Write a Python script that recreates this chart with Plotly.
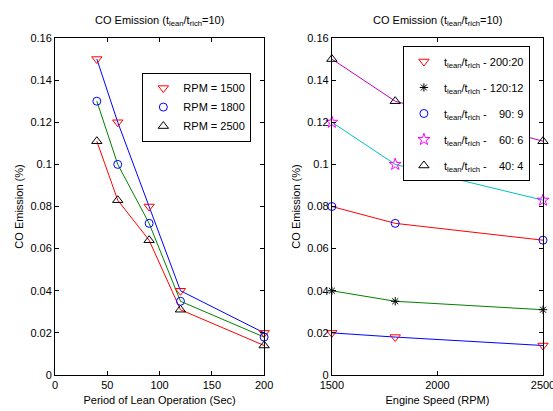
import plotly.graph_objects as go

# ---- data ----
lean_period = [40, 60, 90, 120, 200]
rpm_labels = ["RPM = 1500", "RPM = 1800", "RPM = 2500"]
co_rpm1500 = [0.150, 0.120, 0.080, 0.040, 0.020]
co_rpm1800 = [0.130, 0.100, 0.072, 0.035, 0.018]
co_rpm2500 = [0.111, 0.083, 0.064, 0.031, 0.014]

engine_speed = [1500, 1800, 2500]
ratio_labels = ["200:20", "120:12", "\u00a0\u00a0\u00a090:\u00a09", "\u00a0\u00a0\u00a060:\u00a06", "\u00a0\u00a0\u00a040:\u00a04"]
co_200_20 = [0.020, 0.018, 0.014]
co_120_12 = [0.040, 0.035, 0.031]
co_90_9 = [0.080, 0.072, 0.064]
co_60_6 = [0.120, 0.100, 0.083]
co_40_4 = [0.150, 0.130, 0.111]

y_ticks = [0, 0.02, 0.04, 0.06, 0.08, 0.1, 0.12, 0.14, 0.16]
y_ticktext = ["0", "0.02", "0.04", "0.06", "0.08", "0.1", "0.12", "0.14", "0.16"]
x1_ticks = [0, 50, 100, 150, 200]
x2_ticks = [1500, 2000, 2500]

FONT = "Liberation Sans, Arial, sans-serif"
BLUE = "rgb(0,0,255)"
GREEN = "rgb(0,128,0)"
RED = "rgb(255,0,0)"
CYAN = "rgb(0,191,191)"
MAG = "rgb(191,0,191)"

fig = go.Figure()

left_series = [
    (co_rpm1500, BLUE, "triangle-down-open", RED, 9),
    (co_rpm1800, GREEN, "circle-open", BLUE, 8),
    (co_rpm2500, RED, "triangle-up-open", "black", 9),
]
for (vals, lc, sym, mc, ms), name in zip(left_series, rpm_labels):
    fig.add_trace(go.Scatter(x=lean_period, y=vals, mode="lines",
                             line=dict(color=lc, width=1), showlegend=False,
                             xaxis="x", yaxis="y", hoverinfo="skip"))
for (vals, lc, sym, mc, ms), name in zip(left_series, rpm_labels):
    fig.add_trace(go.Scatter(x=lean_period, y=vals, mode="markers", name=name,
                             marker=dict(symbol=sym, size=ms, color=mc,
                                         line=dict(color=mc, width=1)),
                             cliponaxis=False, xaxis="x", yaxis="y", legend="legend"))

right_series = [
    (co_200_20, BLUE, "triangle-down-open", RED, 9),
    (co_120_12, GREEN, "asterisk-open", "black", 7),
    (co_90_9, RED, "circle-open", BLUE, 8),
    (co_60_6, CYAN, "star-open", "rgb(255,0,255)", 9),
    (co_40_4, MAG, "triangle-up-open", "black", 9),
]
for (vals, lc, sym, mc, ms) in right_series:
    fig.add_trace(go.Scatter(x=engine_speed, y=vals, mode="lines",
                             line=dict(color=lc, width=1), showlegend=False,
                             xaxis="x2", yaxis="y2", hoverinfo="skip"))
for i, ((vals, lc, sym, mc, ms), lab) in enumerate(zip(right_series, ratio_labels)):
    fig.add_trace(go.Scatter(x=engine_speed, y=vals, mode="markers",
                             name="t<sub>lean</sub>/t<sub>rich</sub> -\u00a0" + lab,
                             legendgroup=f"g{i}",
                             marker=dict(symbol=sym, size=ms, color=mc,
                                         line=dict(color=mc, width=1)),
                             cliponaxis=False, xaxis="x2", yaxis="y2", legend="legend2"))

axis_common = dict(showline=True, linecolor="black", linewidth=1, mirror="ticks",
                   ticks="inside", ticklen=4, tickcolor="black", tickwidth=1,
                   showgrid=False, zeroline=False, automargin=False,
                   ticklabeloverflow="allow",
                   tickfont=dict(family=FONT, size=11, color="black"))

W, H = 553, 411
ml, mr, mt, mb = 55, 10.3, 37.7, 36
pw = W - ml - mr
ph = H - mt - mb
x1_dom = [0, (264 - ml) / pw]
x2_dom = [(331.7 - ml) / pw, 1]


def px_x(px):
    return (px - ml) / pw


def px_y(py):
    return 1 - (py - mt) / ph


fig.update_layout(
    width=W, height=H,
    margin=dict(l=ml, r=mr, t=mt, b=mb, autoexpand=False),
    paper_bgcolor="white", plot_bgcolor="white",
    font=dict(family=FONT, size=11, color="black"),
    xaxis=dict(domain=x1_dom, range=[0, 200], tickvals=x1_ticks, anchor="y",
               title=dict(text="Period of Lean Operation (Sec)", standoff=6,
                          font=dict(family=FONT, size=11)), **axis_common),
    yaxis=dict(domain=[0, 1], range=[0, 0.16], tickvals=y_ticks, ticktext=y_ticktext, anchor="x",
               title=dict(text="CO Emission (%)", standoff=4,
                          font=dict(family=FONT, size=11)), **axis_common),
    xaxis2=dict(domain=x2_dom, range=[1500, 2500], tickvals=x2_ticks, anchor="y2",
                title=dict(text="Engine Speed (RPM)", standoff=6,
                           font=dict(family=FONT, size=11)), **axis_common),
    yaxis2=dict(domain=[0, 1], range=[0, 0.16], tickvals=y_ticks, ticktext=y_ticktext, anchor="x2",
                title=dict(text="CO Emission (%)", standoff=4,
                           font=dict(family=FONT, size=11)), **axis_common),
    legend=dict(x=px_x(142.3), y=px_y(72.3),
                xanchor="left", yanchor="top", bgcolor="white", bordercolor="black",
                borderwidth=1, font=dict(family=FONT, size=11)),
    legend2=dict(x=px_x(402.7), y=px_y(45.7),
                 xanchor="left", yanchor="top", bgcolor="white", bordercolor="black",
                 borderwidth=1, font=dict(family=FONT, size=11),
                 traceorder="grouped", tracegroupgap=7),
    showlegend=True,
)

title_text = "CO Emission (t<sub>lean</sub>/t<sub>rich</sub>=10)"
for xd in (x1_dom, x2_dom):
    fig.add_annotation(text=title_text, xref="paper", yref="paper",
                       x=(xd[0] + xd[1]) / 2, y=1, yshift=8, xanchor="center", yanchor="bottom",
                       showarrow=False, font=dict(family=FONT, size=11, color="black"))

fig.write_html("out.html")
